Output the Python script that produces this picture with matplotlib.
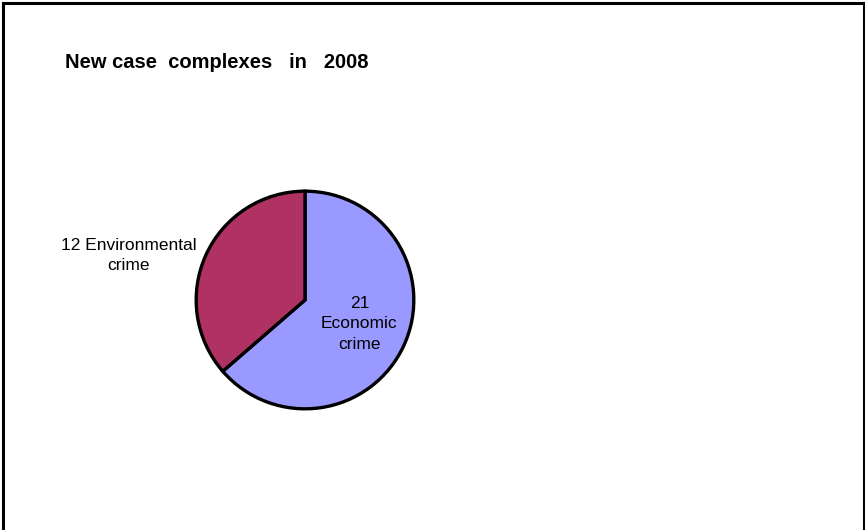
import matplotlib
matplotlib.use("Agg")
import matplotlib.pyplot as plt
from matplotlib.lines import Line2D

plt.rcParams['font.family'] = ['Liberation Sans', 'DejaVu Sans']

# data
categories = ["Economic\ncrime", "Environmental\ncrime"]
counts = [21, 12]
colors = ["#9999FF", "#B03262"]

W, H = 865, 530
fig = plt.figure(figsize=(W / 100, H / 100), dpi=100)

# pie centre (305, 300) px, radius 111 px
cx, cy, r = 305, 300, 111
ax = fig.add_axes([(cx - r) / W, (H - cy - r) / H, 2 * r / W, 2 * r / H])
wedges, _ = ax.pie(counts, colors=colors, startangle=90, counterclock=False,
                   radius=1.0, wedgeprops=dict(edgecolor="black", linewidth=2.4))
ax.set_xlim(-1.02, 1.02)
ax.set_ylim(-1.02, 1.02)
ax.set_aspect("equal")
ax.axis("off")

# labels
ax.text(0.50, -0.22, f"{counts[0]}\n{categories[0]}", ha="center", va="center",
        fontsize=12.5, linespacing=1.45, clip_on=False)
ax.text(-1.62, 0.41, f"{counts[1]} {categories[1]}", ha="center", va="center",
        fontsize=12.5, linespacing=1.45, clip_on=False)

# title
fig.text(65 / W, 1 - 63 / H, "New case  complexes   in   2008", fontsize=14.5,
         fontweight="bold", ha="left", va="center")

# frame (bottom is cut off in the original)
x0, x1, y1 = 3 / W, 863.5 / W, 1 - 3 / H
for xs, ys in [([x0, x0], [0, y1]), ([x0, x1], [y1, y1]), ([x1, x1], [0, y1])]:
    fig.add_artist(Line2D(xs, ys, color="black", linewidth=2.2, transform=fig.transFigure))

fig.savefig("out.png", dpi=100, facecolor="white")
